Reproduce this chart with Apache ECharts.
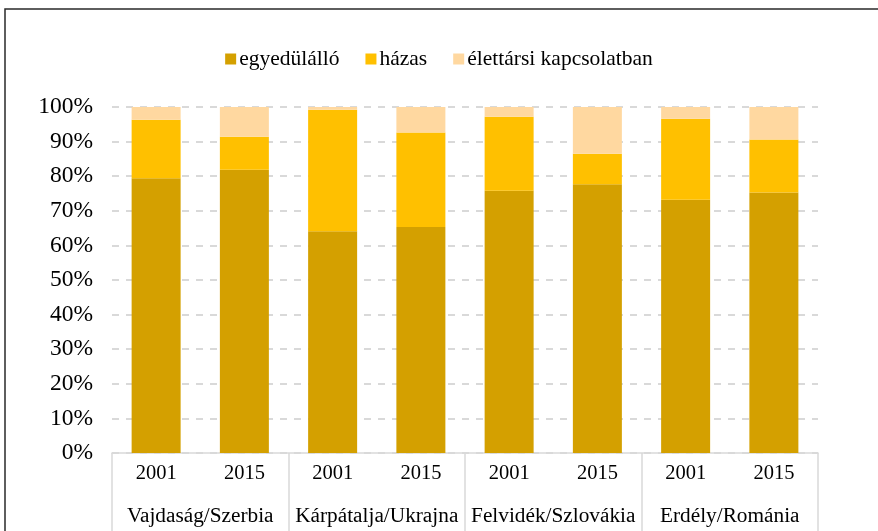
<!DOCTYPE html>
<html><head><meta charset="utf-8">
<script src="https://cdn.jsdelivr.net/npm/echarts@6/dist/echarts.min.js"></script>
<style>html,body{margin:0;padding:0;background:#fff}#c{width:878px;height:531px}</style>
</head><body><div id="c"></div>
<script>
const years = ['2001','2015','2001','2015','2001','2015','2001','2015'];
const regions = ['Vajdaság/Szerbia','Kárpátalja/Ukrajna','Felvidék/Szlovákia','Erdély/Románia'];
const seriesNames = ['egyedülálló','házas','élettársi kapcsolatban'];
const egyedulallo = [79.4, 81.9, 64.1, 65.3, 75.8, 77.7, 73.2, 75.3];
const hazas =       [16.9,  9.5, 35.1, 27.3, 21.4,  8.8, 23.4, 15.3];
const elettarsi =   [ 3.7,  8.6,  0.8,  7.4,  2.8, 13.5,  3.4,  9.4];
const yTicks = [0,10,20,30,40,50,60,70,80,90,100];
const colors = ['#D4A000','#FFC000','#FFD8A0'];

const font = '"Liberation Serif", "Times New Roman", serif';
const chart = echarts.init(document.getElementById('c'));
const mk = (name, data, i) => ({
  name, type:'bar', stack:'s', data, barWidth: 49,
  itemStyle:{color:colors[i]}, xAxisIndex:0, yAxisIndex:0
});
chart.setOption({
  animation:false,
  textStyle:{fontFamily:font},
  graphic:[{type:'rect', shape:{x:5,y:9,width:900,height:600}, style:{fill:'none', stroke:'#2a2a2a', lineWidth:1.5}, silent:true}],
  legend:{top:43, left:'center', itemWidth:11, itemHeight:11, itemGap:26,
    textStyle:{fontFamily:font, fontSize:21.5, color:'#000', padding:[0,0,0,-2]},
    data:seriesNames.map((n,i)=>({name:n, icon:'rect'}))},
  grid:{left:112, right:60, top:107, bottom:78, containLabel:false},
  xAxis:[
    {type:'category', data:years, position:'bottom',
     axisLine:{show:true, lineStyle:{color:'#d9d9d9', width:1.5}},
     axisTick:{show:false},
     axisLabel:{fontFamily:font, fontSize:20.5, color:'#000', margin:10, interval:0}},
    {type:'category', data:regions, position:'bottom', gridIndex:0,
     axisLine:{show:false},
     axisTick:{show:true, length:80, lineStyle:{color:'#d9d9d9', width:1.5}},
     axisLabel:{fontFamily:font, fontSize:21.3, color:'#000', margin:53, interval:0}}
  ],
  yAxis:{type:'value', min:0, max:100, interval:10,
    axisLine:{show:false}, axisTick:{show:false},
    axisLabel:{fontFamily:font, fontSize:23.5, color:'#000', margin:19, formatter:v=>yTicks.includes(v)?v+'%':''},
    splitLine:{lineStyle:{color:'#d9d9d9', width:2, type:[7,7]}}},
  series:[mk(seriesNames[0],egyedulallo,0), mk(seriesNames[1],hazas,1), mk(seriesNames[2],elettarsi,2)]
});
</script></body></html>
